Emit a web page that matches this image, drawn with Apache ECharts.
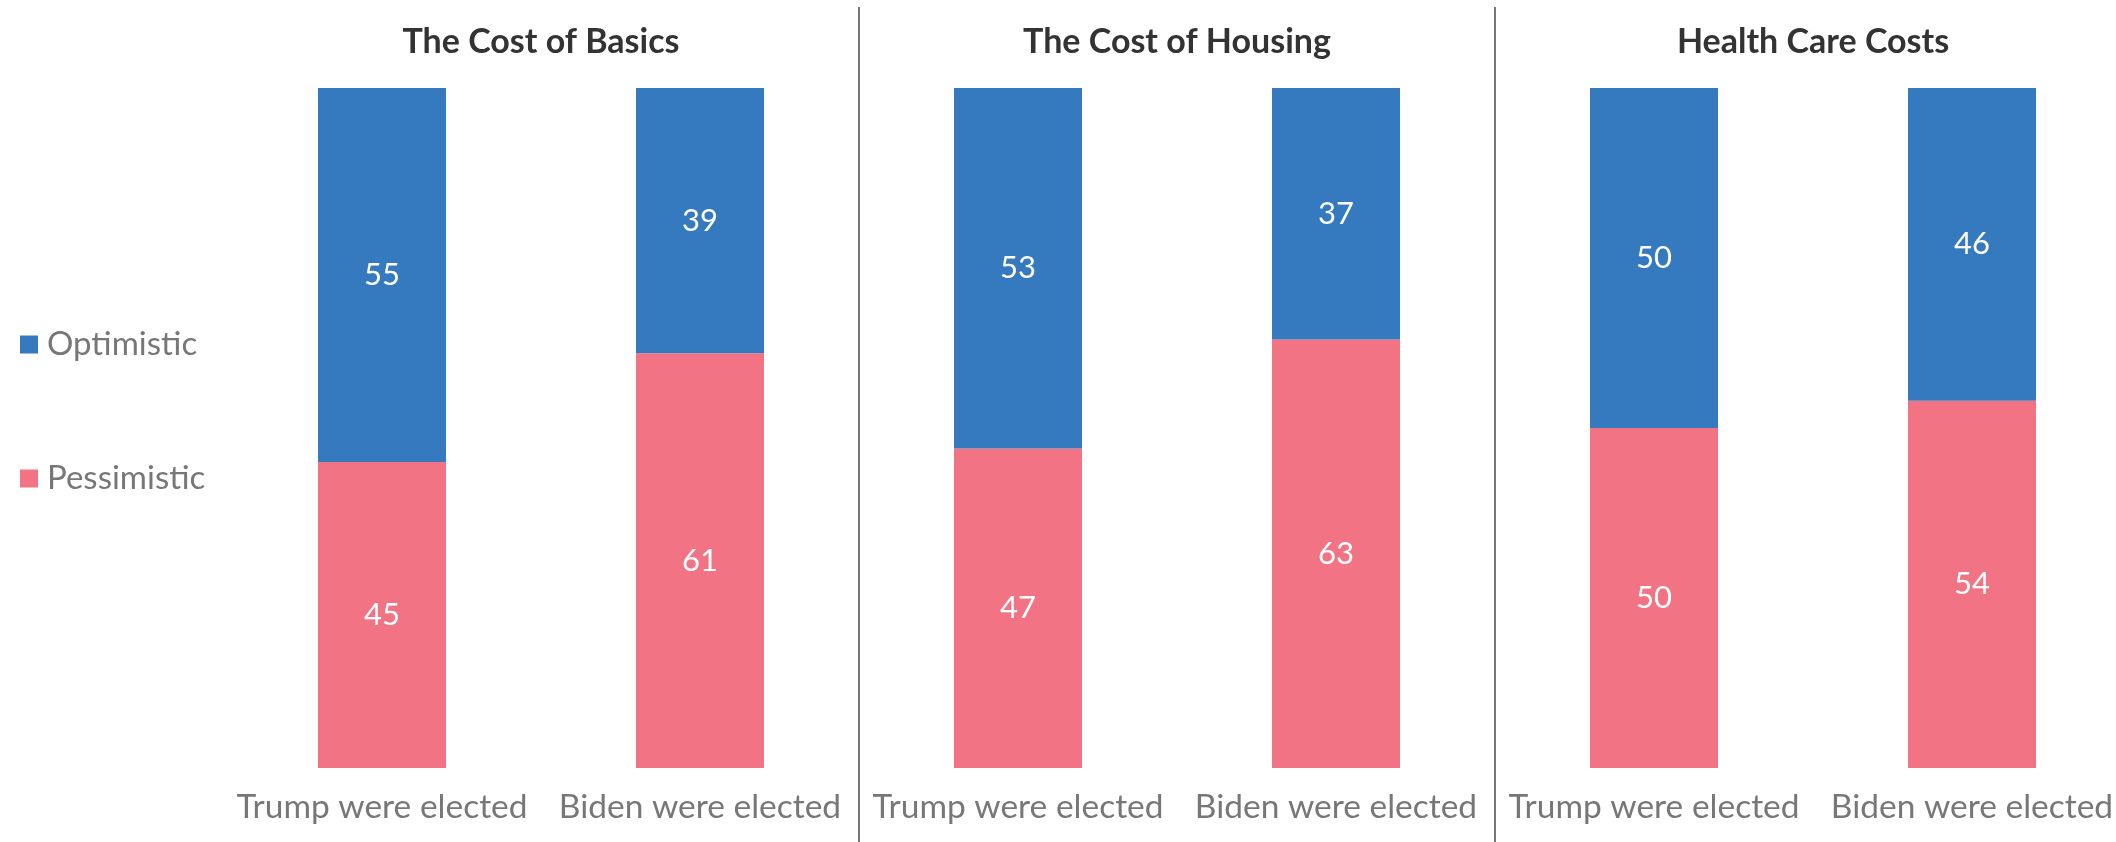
<!DOCTYPE html>
<html>
<head>
<meta charset="utf-8">
<script src="https://cdn.jsdelivr.net/npm/echarts@6/dist/echarts.min.js"></script>
<style>
html,body{margin:0;padding:0;background:#fff;}
#chart{width:2116px;height:842px;}
</style>
</head>
<body>
<div id="chart"></div>
<script>
var panels = ['The Cost of Basics', 'The Cost of Housing', 'Health Care Costs'];
var categories = ['Trump were elected', 'Biden were elected'];
var optimistic = [[55, 39], [53, 37], [50, 46]];
var pessimistic = [[45, 61], [47, 63], [50, 54]];

var FONT = 'Lato, "Noto Sans", sans-serif';
var BLUE = '#3579be';
var PINK = '#f27484';
var GRAY = '#777777';
var gridLeft0 = 223, panelW = 636, gridTop = 88, gridH = 680;

var chart = echarts.init(document.getElementById('chart'), null, {renderer: 'canvas'});

var grids = [], xAxes = [], yAxes = [], series = [], titles = [], graphics = [];
panels.forEach(function (name, i) {
  var left = gridLeft0 + panelW * i;
  grids.push({left: left, top: gridTop, width: panelW, height: gridH, containLabel: false, outerBoundsMode: 'none'});
  xAxes.push({
    type: 'category', gridIndex: i, data: categories,
    axisLine: {show: false}, axisTick: {show: false},
    axisLabel: {color: GRAY, fontSize: 33.5, fontFamily: FONT, margin: 22, interval: 0, hideOverlap: false}
  });
  yAxes.push({
    type: 'value', gridIndex: i, min: 0, max: 100, show: false
  });
  titles.push({
    text: name, left: left + panelW / 2, top: 25, textAlign: 'center', padding: 0,
    textStyle: {fontSize: 34, fontWeight: 'bold', color: '#333333', fontFamily: FONT}
  });
  var lbl = {show: true, position: 'inside', color: '#ffffff', fontSize: 31, fontFamily: FONT};
  series.push({
    name: 'Pessimistic', type: 'bar', stack: 's' + i, xAxisIndex: i, yAxisIndex: i,
    data: pessimistic[i], barWidth: 128, itemStyle: {color: PINK}, label: lbl,
    emphasis: {disabled: true}
  });
  series.push({
    name: 'Optimistic', type: 'bar', stack: 's' + i, xAxisIndex: i, yAxisIndex: i,
    data: optimistic[i], barWidth: 128, itemStyle: {color: BLUE}, label: lbl,
    emphasis: {disabled: true}
  });
  if (i > 0) {
    graphics.push({
      type: 'line', silent: true,
      shape: {x1: left, y1: 7, x2: left, y2: 842},
      style: {stroke: GRAY, lineWidth: 2}
    });
  }
});

chart.setOption({
  animation: false,
  title: titles,
  legend: {
    data: ['Optimistic', 'Pessimistic'], orient: 'vertical', left: 20, top: 328,
    padding: 0, itemWidth: 18, itemHeight: 18, itemGap: 101, icon: 'rect',
    textStyle: {color: GRAY, fontSize: 33, fontFamily: FONT, padding: [0, 0, 0, 4]},
    selectedMode: false
  },
  grid: grids, xAxis: xAxes, yAxis: yAxes, series: series, graphic: graphics
});
</script>
</body>
</html>
